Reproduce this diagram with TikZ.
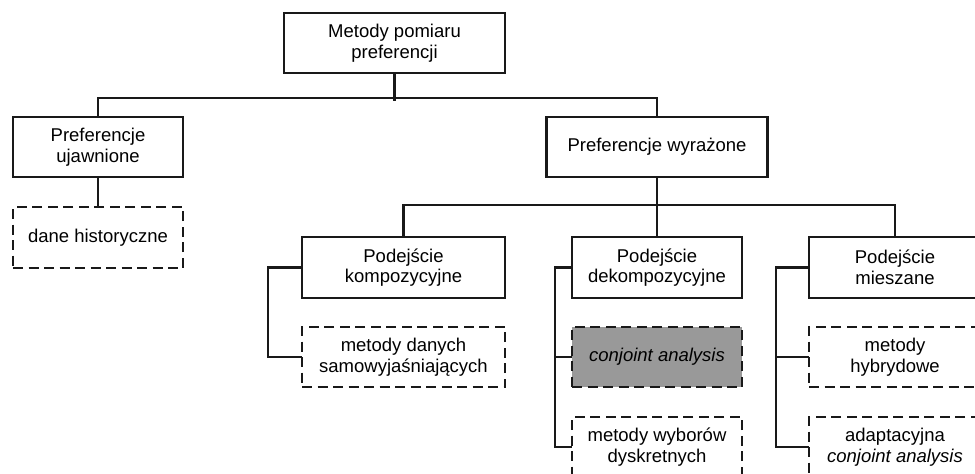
\documentclass[tikz,border=0pt]{standalone}
\usepackage{fontspec}
\setmainfont{Liberation Sans}
\begin{document}
\begin{tikzpicture}[x=1pt,y=-1pt,
  box/.style={draw=black!90,line width=2.2pt,fill=white,align=center,inner sep=0pt,
    font=\fontsize{18.5}{20.5}\selectfont,minimum height=60pt},
  dbox/.style={box,dash pattern=on 10pt off 5.5pt},
  hl/.style={dbox,fill=black!40},
  conn/.style={draw=black!90,line width=2.2pt,line cap=rect}]
\useasboundingbox (0,0) rectangle (975,474);
\clip (0,0) rectangle (975,474);
\node[box,minimum width=221pt] (top) at (394.5,43) {Metody pomiaru\\preferencji};
\node[box,minimum width=170pt] (ujaw) at (98,147) {Preferencje\\ujawnione};
\node[box,minimum width=221pt] (wyr) at (657,147) {Preferencje wyrażone};
\node[dbox,minimum width=170pt,minimum height=61pt] (hist) at (98,237.5) {dane historyczne};
\node[box,minimum width=203pt,minimum height=61pt] (komp) at (403.5,267.5) {Podejście\\kompozycyjne};
\node[box,minimum width=170pt,minimum height=61pt] (dekomp) at (657,267.5) {Podejście\\dekompozycyjne};
\node[box,minimum width=172pt,minimum height=61pt] (miesz) at (895,267.5) {Podejście\\mieszane};
\node[dbox,minimum width=203pt] (samow) at (403.5,357) {metody danych\\samowyjaśniających};
\node[hl,minimum width=170pt] (conj) at (657,357) {\itshape conjoint analysis};
\node[dbox,minimum width=170pt] (dyskr) at (657,447) {metody wyborów\\dyskretnych};
\node[dbox,minimum width=172pt] (hybr) at (895,357) {metody\\hybrydowe};
\node[dbox,minimum width=172pt] (adapt) at (895,447) {adaptacyjna\\\textit{conjoint analysis}};
% tree connectors
\draw[conn] (top.south) -- ++(0,26);
\draw[conn] (ujaw.north) -- ++(0,-18) -| (wyr.north);
\draw[conn] (ujaw.south) -- (hist.north);
\draw[conn] (wyr.south) -- (dekomp.north);
\draw[conn] (komp.north) -- ++(0,-31) -| (miesz.north);
\draw[conn] (komp.west) -- ++(-33,0) |- (samow.west);
\draw[conn] (dekomp.west) -- ++(-16,0) |- (dyskr.west);
\draw[conn] (conj.west) -- ++(-16,0);
\draw[conn] (miesz.west) -- ++(-32,0) |- (adapt.west);
\draw[conn] (hybr.west) -- ++(-32,0);
\end{tikzpicture}
\end{document}
